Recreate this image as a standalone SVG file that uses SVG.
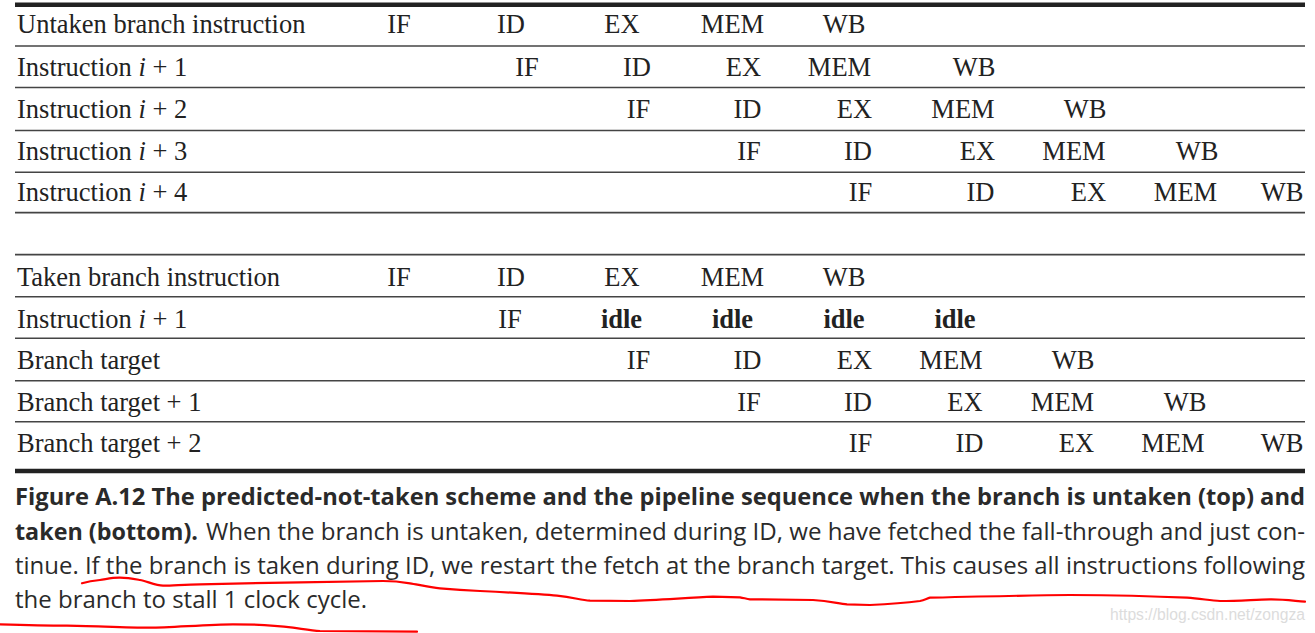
<svg xmlns="http://www.w3.org/2000/svg" width="1315" height="633" viewBox="0 0 1315 633">
<style>
.t{font-family:"Liberation Serif","Times New Roman",serif;font-size:26.5px;fill:#222}
.c{text-anchor:middle}
.b{font-weight:bold}
.i{font-style:italic}
.thin{stroke:#444;stroke-width:1.6}
.thick{stroke:#222;stroke-width:4.5}
.cap{font-family:"Open Sans","Noto Sans",sans-serif;font-size:23px;fill:#2a2a2a}
.capb{font-weight:700}
.red{fill:none;stroke:#f00;stroke-width:2.2;stroke-linecap:round;stroke-linejoin:round}
.wm{font-family:"Liberation Sans",Arial,sans-serif;font-size:16px;fill:#dcdcdc}
</style>
<rect width="1315" height="633" fill="#fff"/>
<g id="rules">
<line class="thick" x1="15" y1="4.7" x2="1305" y2="4.7"/>
<line class="thin" x1="15" y1="46" x2="1305" y2="46"/>
<line class="thin" x1="15" y1="87.5" x2="1305" y2="87.5"/>
<line class="thin" x1="15" y1="130.5" x2="1305" y2="130.5"/>
<line class="thin" x1="15" y1="172.3" x2="1305" y2="172.3"/>
<line class="thin" x1="15" y1="212.6" x2="1305" y2="212.6"/>
<line class="thin" x1="15" y1="254.6" x2="1305" y2="254.6"/>
<line class="thin" x1="15" y1="296.7" x2="1305" y2="296.7"/>
<line class="thin" x1="15" y1="338.3" x2="1305" y2="338.3"/>
<line class="thin" x1="15" y1="380.7" x2="1305" y2="380.7"/>
<line class="thin" x1="15" y1="421.7" x2="1305" y2="421.7"/>
<line class="thick" x1="15" y1="471" x2="1305" y2="471"/>
</g>
<g id="top-row1" class="t">
<text x="17" y="33">Untaken branch instruction</text>
<text class="c" x="399" y="33">IF</text><text class="c" x="511" y="33">ID</text><text class="c" x="622" y="33">EX</text><text class="c" x="732.5" y="33">MEM</text><text class="c" x="844" y="33">WB</text>
</g>
<g id="top-row2" class="t">
<text x="17" y="76">Instruction <tspan class="i">i</tspan> + 1</text>
<text class="c" x="527" y="76">IF</text><text class="c" x="637" y="76">ID</text><text class="c" x="743.5" y="76">EX</text><text class="c" x="839.5" y="76">MEM</text><text class="c" x="974" y="76">WB</text>
</g>
<g id="top-row3" class="t">
<text x="17" y="118">Instruction <tspan class="i">i</tspan> + 2</text>
<text class="c" x="638.5" y="118">IF</text><text class="c" x="747.5" y="118">ID</text><text class="c" x="854.5" y="118">EX</text><text class="c" x="963" y="118">MEM</text><text class="c" x="1085" y="118">WB</text>
</g>
<g id="top-row4" class="t">
<text x="17" y="160">Instruction <tspan class="i">i</tspan> + 3</text>
<text class="c" x="749" y="160">IF</text><text class="c" x="858" y="160">ID</text><text class="c" x="977.5" y="160">EX</text><text class="c" x="1074" y="160">MEM</text><text class="c" x="1197" y="160">WB</text>
</g>
<g id="top-row5" class="t">
<text x="17" y="201">Instruction <tspan class="i">i</tspan> + 4</text>
<text class="c" x="860.5" y="201">IF</text><text class="c" x="980.5" y="201">ID</text><text class="c" x="1088.5" y="201">EX</text><text class="c" x="1185.5" y="201">MEM</text><text class="c" x="1282" y="201">WB</text>
</g>
<g id="bot-row1" class="t">
<text x="17" y="286">Taken branch instruction</text>
<text class="c" x="399" y="286">IF</text><text class="c" x="511" y="286">ID</text><text class="c" x="622" y="286">EX</text><text class="c" x="732.5" y="286">MEM</text><text class="c" x="844" y="286">WB</text>
</g>
<g id="bot-row2" class="t">
<text x="17" y="328">Instruction <tspan class="i">i</tspan> + 1</text>
<text class="c" x="510" y="328">IF</text><text class="c b" x="621.5" y="328">idle</text><text class="c b" x="732.5" y="328">idle</text><text class="c b" x="844" y="328">idle</text><text class="c b" x="955" y="328">idle</text>
</g>
<g id="bot-row3" class="t">
<text x="17" y="369">Branch target</text>
<text class="c" x="638.5" y="369">IF</text><text class="c" x="747.5" y="369">ID</text><text class="c" x="854.5" y="369">EX</text><text class="c" x="951" y="369">MEM</text><text class="c" x="1073" y="369">WB</text>
</g>
<g id="bot-row4" class="t">
<text x="17" y="411">Branch target + 1</text>
<text class="c" x="749" y="411">IF</text><text class="c" x="858" y="411">ID</text><text class="c" x="965" y="411">EX</text><text class="c" x="1062.5" y="411">MEM</text><text class="c" x="1185" y="411">WB</text>
</g>
<g id="bot-row5" class="t">
<text x="17" y="452">Branch target + 2</text>
<text class="c" x="860.5" y="452">IF</text><text class="c" x="969.5" y="452">ID</text><text class="c" x="1076.5" y="452">EX</text><text class="c" x="1173" y="452">MEM</text><text class="c" x="1282" y="452">WB</text>
</g>
<g id="caption" class="cap">
<text class="capb" x="15" y="505" textLength="1290" lengthAdjust="spacingAndGlyphs">Figure A.12  The predicted-not-taken scheme and the pipeline sequence when the branch is untaken (top) and</text>
<text class="capb" x="15" y="539.5" textLength="183" lengthAdjust="spacingAndGlyphs">taken (bottom).</text>
<text x="206" y="539.5" textLength="1099" lengthAdjust="spacingAndGlyphs">When the branch is untaken, determined during ID, we have fetched the fall-through and just con-</text>
<text x="15" y="573.5" textLength="1290" lengthAdjust="spacingAndGlyphs">tinue. If the branch is taken during ID, we restart the fetch at the branch target. This causes all instructions following</text>
<text x="15" y="608" textLength="352" lengthAdjust="spacingAndGlyphs">the branch to stall 1 clock cycle.</text>
</g>
<g id="annotations">
<path class="red" d="M82,583.3 C90,581 95,580.5 100,580 S112,577.5 120,577.7 S134,579 140,580 S156,585.5 163,585.7 S185,584.5 200,584.3 L300,582.3 L383,581 C395,581 402,582 410,583.3 S430,587.5 440,588.3 C460,590 470,590.5 480,591 S540,594 557,595.7 S580,600 590,600.7 L630,601 C660,600 690,597.5 713,596.7 L740,597.3 C744,598 747,599 750,599.3 L813,600 C830,601 838,603.5 847,604.3 L870,605 C890,604 908,602.5 920,601 C925,600 927,598.3 930,597.7 C980,596.5 1030,595.3 1070,595 C1120,595.3 1160,596.5 1187,597.7 C1200,598.5 1210,600.5 1220,601 C1240,601 1255,599.5 1270,599.3 S1295,601 1305,601.7"/>
<path class="red" d="M0,624.3 C25,625 45,625.5 67,625.7 S130,627.8 150,627.7 S210,624.3 233,624.3 S280,626 293,627.7 C303,629 312,630.5 320,631 L417,631.7"/>
</g>
<text class="wm" x="1110" y="620" textLength="195" lengthAdjust="spacingAndGlyphs">https://blog.csdn.net/zongza</text>
</svg>
